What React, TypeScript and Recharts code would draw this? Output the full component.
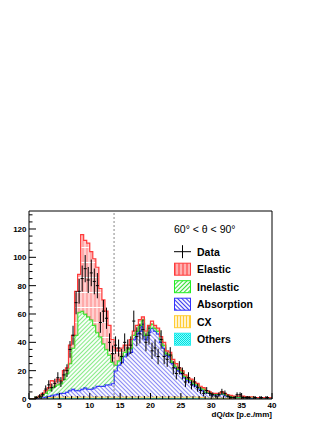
import React from 'react';
import { ComposedChart, Area, Scatter, ErrorBar, XAxis, YAxis, ReferenceLine, ReferenceArea } from 'recharts';

const binEdges: number[] = [
  0, 0.5, 1, 1.5, 2, 2.5, 3, 3.5, 4, 4.5, 5, 5.5, 6, 6.5, 7, 7.5, 8, 8.5, 9, 9.5,
  10, 10.5, 11, 11.5, 12, 12.5, 13, 13.5, 14, 14.5, 15, 15.5, 16, 16.5, 17, 17.5, 18, 18.5, 19, 19.5,
  20, 20.5, 21, 21.5, 22, 22.5, 23, 23.5, 24, 24.5, 25, 25.5, 26, 26.5, 27, 27.5, 28, 28.5, 29, 29.5,
  30, 30.5, 31, 31.5, 32, 32.5, 33, 33.5, 34, 34.5, 35, 35.5, 36, 36.5, 37, 37.5, 38, 38.5, 39, 39.5,
];

const others: number[] = [
  0, 0, 0.3, 0.3, 0.3, 0.4, 0.4, 0.4, 0.5, 0.5, 0.5, 0.5, 0.5, 0.5, 0.5, 0.5, 0.5, 0.5, 0.5, 0.5,
  0.5, 0.5, 0.5, 0.5, 0.5, 0.5, 0.5, 0.5, 0.5, 0.5, 0.5, 0.5, 0.5, 0.5, 0.5, 0.5, 0.5, 0.5, 0.5, 0.5,
  0.5, 0.5, 0.5, 0.5, 0.5, 0.5, 0.5, 0.5, 0.5, 0.5, 0.5, 0.5, 0.5, 0.5, 0.5, 0.5, 0.4, 0.4, 0.3, 0.3,
  0.3, 0.3, 0.3, 0.3, 0.3, 0.2, 0.2, 0.2, 0.2, 0.2, 0.2, 0.1, 0.1, 0.1, 0.1, 0.1, 0.1, 0.1, 0.1, 0.1,
];

const cx: number[] = [
  0, 0, 0, 0.3, 0.5, 0.5, 0.8, 0.8, 1, 1, 1, 1, 1, 1, 1, 1, 1, 1, 1, 1,
  1, 1, 1, 1, 1, 1, 1, 1, 1, 1, 1, 1, 1, 1, 1, 1, 1, 1, 1, 1,
  1, 1, 1, 1, 1, 1, 1, 1, 1, 1, 1, 1, 1, 1, 1, 1, 0.8, 0.8, 0.6, 0.6,
  0.5, 0.5, 0.5, 0.5, 0.4, 0.4, 0.3, 0.3, 0.3, 0.3, 0.3, 0.2, 0.2, 0.2, 0.2, 0.2, 0.2, 0.2, 0.2, 0.2,
];

const absorption: number[] = [
  0, 0, 0.2, 0.2, 0.2, 0.6, 0.8, 1.3, 1.5, 2, 2.5, 2.5, 3.5, 4.5, 5.5, 4.5, 4.5, 5.5, 6.5, 5.5,
  5.5, 6.5, 7.5, 7.5, 7.5, 8.5, 8.5, 9.5, 18.5, 22.5, 24.5, 28.5, 30.5, 31.5, 40.5, 44.5, 46.5, 51.5, 40.5, 45.5,
  48.5, 46.5, 44.5, 38.5, 34.5, 29.5, 28.5, 23.5, 20.5, 18.5, 16.5, 13.5, 11.5, 10.5, 8.5, 7.5, 5.8, 4.8, 3.6, 3.1,
  2.2, 2.2, 2.2, 3.2, 2.3, 1.4, 1.0, 0.5, 0.5, 0.5, 0.5, 0.5, 0.5, 0.3, 0.3, 0.2, 0.2, 0.2, 0.2, 0.2,
];

const inelastic: number[] = [
  0, 0, 0.5, 0.7, 2, 2.5, 4, 5.5, 6, 6.5, 7, 10, 13, 19, 29, 39, 55, 55, 52, 51,
  49, 44, 38, 35, 30, 25, 21, 15, 4, 3, 4, 3, 3, 3, 3, 2, 4, 3, 3, 3,
  3, 2, 2, 2, 2, 1, 1, 1, 1, 1, 1, 1, 1, 1, 1, 1, 1, 1, 0.5, 0.5,
  0.5, 0.5, 0.5, 0.5, 0.5, 0.5, 0.5, 0.5, 0.5, 0.5, 0.5, 0.2, 0.2, 0.4, 0.2, 0.3, 0.3, 0.3, 0.3, 0.3,
];

const elastic: number[] = [
  0, 0, 0, 0.5, 1, 2, 2, 5, 3, 4, 2, 6, 4, 13, 9, 31, 27, 54, 52, 52,
  48, 47, 46, 34, 31, 27, 21, 16, 12, 7, 6, 5, 3, 6, 3, 4, 4, 2, 3, 2,
  2, 2, 2, 2, 2, 2, 2, 2, 2, 1, 1, 1, 1, 1, 1, 1, 1, 1, 1, 0.5,
  0.5, 0.5, 0.5, 0.5, 0.5, 0.5, 0.5, 0.5, 0.5, 0.5, 0.5, 0.5, 0.5, 0.5, 0.2, 0.2, 0.2, 0.2, 0.2, 0.2,
];

const dataValues: number[] = [
  0, 0, 1, 2, 3, 7, 10, 8, 11, 15, 12, 17, 20, 35, 45, 68, 76, 85, 92, 84,
  89, 83, 80, 54, 62, 57, 40, 32, 38, 36, 30, 40, 36, 38, 55, 44, 46, 49, 40, 45,
  34, 36, 30, 42, 30, 28, 31, 22, 18, 22, 18, 12, 15, 10, 12, 8, 6, 4, 6, 4,
  3, 2, 3, 5, 4, 2, 1, 1, 3, 3, 1, 1, 1, 0, 1, 0, 1, 0, 1, 0,
];

const dataErrors: number[] = [
  0, 0, 1, 1.4, 1.7, 2.6, 3.2, 2.8, 3.3, 3.9, 3.5, 4.1, 4.5, 5.9, 6.7, 8.2, 8.7, 9.2, 9.6, 9.2,
  9.4, 9.1, 8.9, 7.3, 7.9, 7.5, 6.3, 5.7, 6.2, 6, 5.5, 6.3, 6, 6.2, 7.4, 6.6, 6.8, 7, 6.3, 6.7,
  5.8, 6, 5.5, 6.5, 5.5, 5.3, 5.6, 4.7, 4.2, 4.7, 4.2, 3.5, 3.9, 3.2, 3.5, 2.8, 2.4, 2, 2.4, 2,
  1.7, 1.4, 1.7, 2.2, 2, 1.4, 1, 1, 1.7, 1.7, 1, 1, 1, 0, 1, 0, 1, 0, 1, 0,
];

const xTicks: number[] = [0, 1, 2, 3, 4, 5, 6, 7, 8, 9, 10, 11, 12, 13, 14, 15, 16, 17, 18, 19, 20, 21, 22, 23, 24, 25, 26, 27, 28, 29, 30, 31, 32, 33, 34, 35, 36, 37, 38, 39, 40];
const xLabels: number[] = [0, 5, 10, 15, 20, 25, 30, 35, 40];
const yTicks: number[] = [0, 5, 10, 15, 20, 25, 30, 35, 40, 45, 50, 55, 60, 65, 70, 75, 80, 85, 90, 95, 100, 105, 110, 115, 120, 125, 130];
const yLabels: number[] = [0, 20, 40, 60, 80, 100, 120];

const legendItems = [
  { name: 'Data', kind: 'data' },
  { name: 'Elastic', fill: 'url(#pEl)', stroke: '#ff3b3b' },
  { name: 'Inelastic', fill: 'url(#pIn)', stroke: '#22ee22' },
  { name: 'Absorption', fill: 'url(#pAb)', stroke: '#3030ff' },
  { name: 'CX', fill: 'url(#pCx)', stroke: '#ffcc33' },
  { name: 'Others', fill: 'url(#pOt)', stroke: '#22eeee' },
];

const last = binEdges.length - 1;
const histData = binEdges
  .map((x, i) => ({ x, others: others[i], cx: cx[i], abs: absorption[i], inel: inelastic[i], el: elastic[i] }))
  .concat([{ x: 40, others: others[last], cx: cx[last], abs: absorption[last], inel: inelastic[last], el: elastic[last] }]);

const pointData = binEdges
  .map((x, i) => ({ x: x + 0.25, y: dataValues[i], err: dataErrors[i], xerr: 0.25 }))
  .filter((d) => d.y > 0);

const FONT = '"Liberation Sans", Arial, Helvetica, sans-serif';

const XTick = (props: any) => {
  const { x, y, payload } = props;
  const major = xLabels.includes(payload.value);
  return (
    <g>
      <line x1={x} x2={x} y1={y} y2={y - (major ? 6 : 3)} stroke="#000" strokeWidth={1} />
      {major && (
        <text x={x} y={y + 9} textAnchor="middle" fontSize={8} fontWeight="bold" fontFamily={FONT} fill="#000">
          {payload.value}
        </text>
      )}
    </g>
  );
};

const YTick = (props: any) => {
  const { x, y, payload } = props;
  const major = yLabels.includes(payload.value);
  return (
    <g>
      <line x1={x} x2={x + (major ? 7 : 3.5)} y1={y} y2={y} stroke="#000" strokeWidth={1} />
      {major && (
        <text x={x - 2.5} y={y + 3} textAnchor="end" fontSize={8} fontWeight="bold" fontFamily={FONT} fill="#000">
          {payload.value}
        </text>
      )}
    </g>
  );
};

export default function App() {
  return (
    <div style={{ position: 'relative', width: 319, height: 415 }}>
      <ComposedChart
        width={319}
        height={415}
        data={histData}
        margin={{ top: 203, right: 55, bottom: 0, left: 0 }}
      >
        <XAxis
          type="number"
          dataKey="x"
          domain={[0, 40]}
          ticks={xTicks}
          interval={0}
          tickSize={0}
          tickMargin={0}
          axisLine={false}
          tickLine={false}
          height={24}
          allowDataOverflow
          tick={<XTick />}
        />
        <YAxis
          type="number"
          domain={[0, 132.7]}
          ticks={yTicks}
          interval={0}
          tickSize={0}
          tickMargin={0}
          axisLine={false}
          tickLine={false}
          width={21}
          allowDataOverflow
          tick={<YTick />}
        />
        <Area type="stepAfter" dataKey="others" stackId="s" fill="url(#pOt)" stroke="#22eeee" strokeWidth={1.2} dot={false} activeDot={false} isAnimationActive={false} />
        <Area type="stepAfter" dataKey="cx" stackId="s" fill="url(#pCx)" stroke="#ffcc33" strokeWidth={1.2} dot={false} activeDot={false} isAnimationActive={false} />
        <Area type="stepAfter" dataKey="abs" stackId="s" fill="url(#pAb)" stroke="#2020ff" strokeWidth={1.5} dot={false} activeDot={false} isAnimationActive={false} />
        <Area type="stepAfter" dataKey="inel" stackId="s" fill="url(#pIn)" stroke="#22ee22" strokeWidth={1.5} dot={false} activeDot={false} isAnimationActive={false} />
        <Area type="stepAfter" dataKey="el" stackId="s" fill="url(#pEl)" stroke="#ff3b3b" strokeWidth={1.2} dot={false} activeDot={false} isAnimationActive={false} />
        <ReferenceLine x={14} stroke="#888" strokeDasharray="2 2" strokeWidth={1} />
        <Scatter data={pointData} dataKey="y" isAnimationActive={false} shape={() => <g />}>
          <ErrorBar dataKey="err" direction="y" width={0} stroke="#000" strokeWidth={1} isAnimationActive={false} />
          <ErrorBar dataKey="xerr" direction="x" width={0} stroke="#000" strokeWidth={1} isAnimationActive={false} />
        </Scatter>
        <ReferenceArea x1={0} x2={40} y1={0} y2={132.7} fill="none" stroke="#000" strokeWidth={1} ifOverflow="visible" />
      </ComposedChart>
      <svg width={319} height={415} style={{ position: 'absolute', left: 0, top: 0, pointerEvents: 'none' }}>
        <defs>
          <pattern id="pEl" patternUnits="userSpaceOnUse" width="4" height="15">
            <rect width="4" height="15" fill="#ff7272" />
            <rect x="0" width="2" height="15" fill="#ffb0b0" />
            <rect y="14" width="4" height="1" fill="#ffffff" />
          </pattern>
          <pattern id="pIn" patternUnits="userSpaceOnUse" width="3" height="3" patternTransform="rotate(45)">
            <rect width="3" height="3" fill="#ffffff" />
            <line x1="1.5" y1="0" x2="1.5" y2="3" stroke="#33dd33" strokeWidth="1.1" />
          </pattern>
          <pattern id="pAb" patternUnits="userSpaceOnUse" width="3" height="3" patternTransform="rotate(-45)">
            <rect width="3" height="3" fill="#ffffff" />
            <line x1="1.5" y1="0" x2="1.5" y2="3" stroke="#3a3aee" strokeWidth="1.1" />
          </pattern>
          <pattern id="pCx" patternUnits="userSpaceOnUse" width="3" height="3">
            <rect width="3" height="3" fill="#ffffff" />
            <line x1="1.5" y1="0" x2="1.5" y2="3" stroke="#ffcc33" strokeWidth="1.5" />
          </pattern>
          <pattern id="pOt" patternUnits="userSpaceOnUse" width="2" height="2">
            <rect width="2" height="2" fill="#88ffff" />
            <rect width="1" height="1" fill="#00dddd" />
            <rect x="1" y="1" width="1" height="1" fill="#00dddd" />
          </pattern>
        </defs>
        <text x={166} y={225} fontSize={10.5} fontFamily={FONT} fill="#000">60° &lt; θ &lt; 90°</text>
        {legendItems.map((item, i) => {
          const cy = 243.7 + i * 17.5;
          return (
            <g key={item.name}>
              {item.kind === 'data' ? (
                <g>
                  <line x1={166} x2={183} y1={cy} y2={cy} stroke="#000" strokeWidth={1} />
                  <line x1={174.5} x2={174.5} y1={cy - 6.5} y2={cy + 6.5} stroke="#000" strokeWidth={1} />
                </g>
              ) : (
                <rect x={166.5} y={cy - 6} width={16} height={12} fill={item.fill} stroke={item.stroke} strokeWidth={1} />
              )}
              <text x={189} y={cy + 4} fontSize={10.5} fontWeight="bold" fontFamily={FONT} fill="#000">{item.name}</text>
            </g>
          );
        })}
        <text x={264} y={409} textAnchor="end" fontSize={8} fontWeight="bold" fontFamily={FONT} fill="#000">dQ/dx [p.e./mm]</text>
      </svg>
    </div>
  );
}
